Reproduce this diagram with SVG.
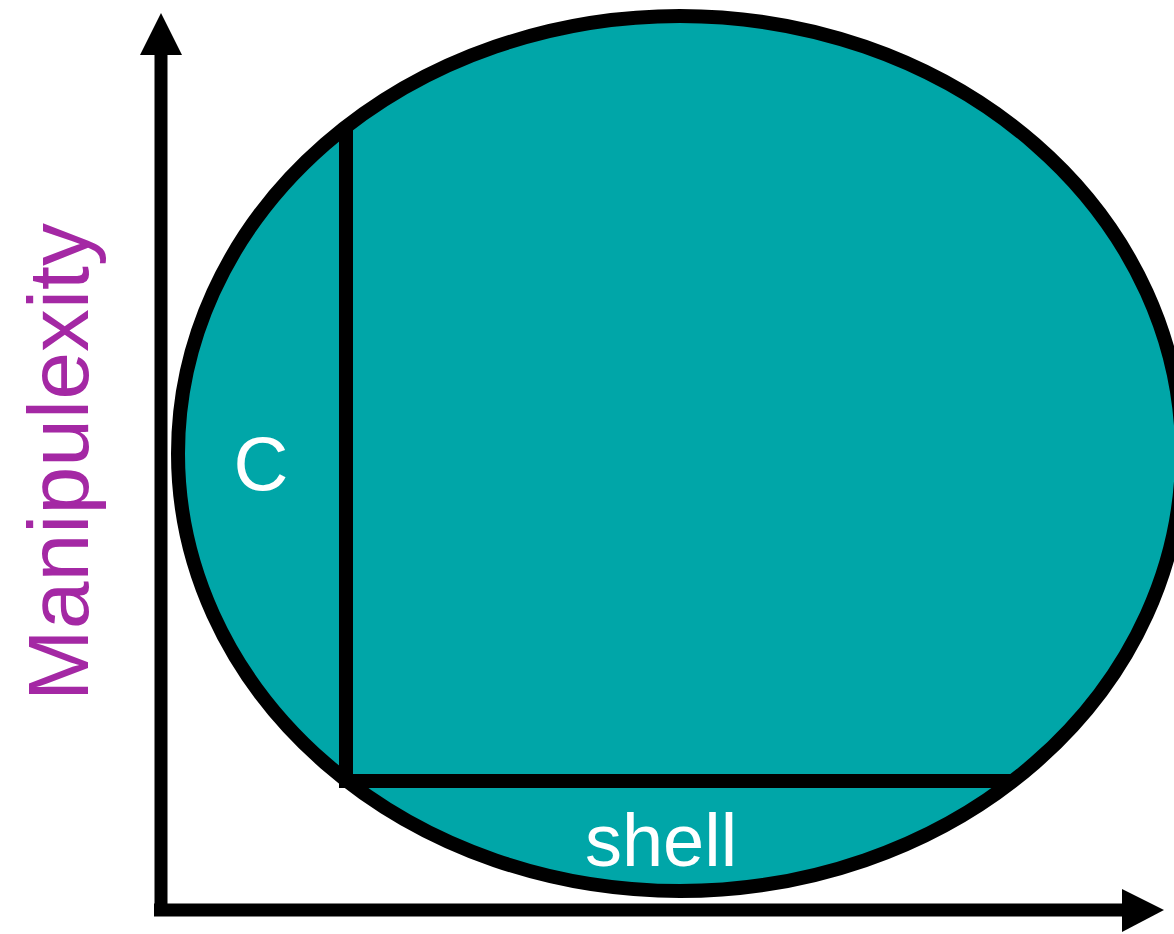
<svg xmlns="http://www.w3.org/2000/svg" width="1174" height="934" viewBox="0 0 1174 934">
<style>
.ax{stroke:#000;stroke-width:13;fill:none}
.ln{stroke:#000;stroke-width:14;fill:none;stroke-linecap:butt}
.lbl{font-family:"Liberation Sans",Arial,sans-serif;fill:#fff}
.ylbl{font-family:"Liberation Sans",Arial,sans-serif;fill:#A428A4}
</style>
<rect width="1174" height="934" fill="#fff"/>
<g id="axes">
<line class="ax" x1="161" y1="50" x2="161" y2="916"/>
<line class="ax" x1="154" y1="910" x2="1126" y2="910"/>
<polygon points="161,13 140,55 182,55" fill="#000"/>
<polygon points="1164,910 1122,889 1122,932" fill="#000"/>
</g>
<g id="ellipse">
<ellipse cx="680" cy="453.5" rx="502" ry="437.5" fill="#00A6A8" stroke="#000" stroke-width="14"/>
</g>
<g id="connectors">
<line class="ln" x1="346" y1="126" x2="346" y2="788"/>
<line class="ln" x1="339" y1="781" x2="1014" y2="781"/>
</g>
<g id="label-c"><text class="lbl" x="261" y="490" font-size="76" text-anchor="middle">C</text></g>
<g id="label-shell"><text class="lbl" x="661" y="866" font-size="74" text-anchor="middle">shell</text></g>
<g id="label-y"><text class="ylbl" transform="translate(88,462) rotate(-90)" x="0" y="0" font-size="86" text-anchor="middle">Manipulexity</text></g>
</svg>
